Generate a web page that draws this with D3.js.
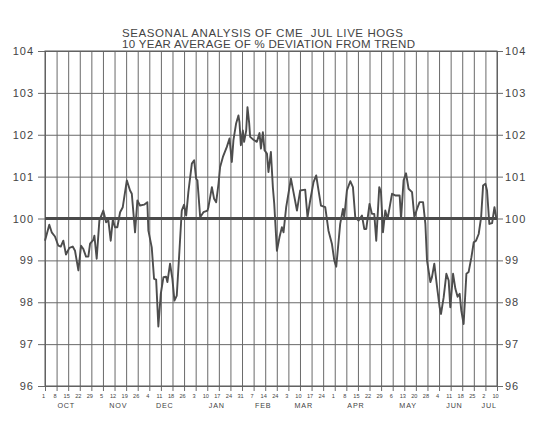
<!DOCTYPE html>
<html>
<head>
<meta charset="utf-8">
<script src="https://cdn.jsdelivr.net/npm/d3@7"></script>
<style>
  body { margin: 0; background: #fff; }
  text { font-family: "Liberation Sans", Arial, sans-serif; fill: #444; }
</style>
</head>
<body>
<svg width="540" height="439"></svg>
<script>
// ---- data ----
const titleLines = [
  'SEASONAL ANALYSIS OF CME  JUL LIVE HOGS',
  '10 YEAR AVERAGE OF % DEVIATION FROM TREND'
];
const dayLabels = [
  '1', '8', '15', '22', '29',
  '5', '12', '19', '26',
  '4', '11', '18', '26',
  '3', '10', '17', '24', '31',
  '7', '14', '24',
  '3', '10', '17', '24',
  '1', '8', '15', '22', '29',
  '6', '13', '20', '28',
  '4', '11', '18', '25',
  '2', '10'
];
const monthNames = ['OCT', 'NOV', 'DEC', 'JAN', 'FEB', 'MAR', 'APR', 'MAY', 'JUN', 'JUL'];
const monthTickCounts = [5, 4, 4, 5, 3, 4, 5, 4, 4, 2];
const yTicks = [96, 97, 98, 99, 100, 101, 102, 103, 104];

// position in weeks from Oct 1, and 10-yr average % of trend
const weekPos = [
  0.00, 0.37, 0.58, 0.86, 1.15, 1.36, 1.58, 1.81, 2.10, 2.39,
  2.59, 2.88, 3.11, 3.31, 3.54, 3.74, 3.89, 4.17, 4.26, 4.46,
  4.69, 5.03, 5.27, 5.47, 5.67, 5.85, 6.04, 6.24, 6.48, 6.71,
  7.06, 7.34, 7.49, 7.77, 7.97, 8.20, 8.55, 8.83, 8.92, 9.21,
  9.41, 9.59, 9.78, 9.99, 10.22, 10.45, 10.56, 10.79, 10.99, 11.17,
  11.37, 11.60, 11.80, 12.00, 12.18, 12.37, 12.67, 12.87, 13.04, 13.15,
  13.39, 13.67, 14.02, 14.10, 14.40, 14.59, 14.77, 14.97, 15.11, 15.35,
  15.69, 15.92, 16.12, 16.26, 16.49, 16.69, 16.78, 16.90, 17.07, 17.18,
  17.36, 17.47, 17.62, 17.70, 17.99, 18.28, 18.51, 18.63, 18.80, 18.94,
  19.15, 19.28, 19.49, 19.66, 19.78, 20.01, 20.23, 20.44, 20.58, 20.81,
  21.22, 21.44, 21.74, 22.02, 22.45, 22.65, 22.88, 23.17, 23.40, 23.60,
  23.81, 24.18, 24.46, 24.76, 24.96, 25.13, 25.47, 25.71, 25.82, 26.05,
  26.34, 26.57, 26.77, 27.06, 27.35, 27.55, 27.72, 28.00, 28.21, 28.41,
  28.58, 28.84, 28.99, 29.16, 29.36, 29.56, 29.94, 30.22, 30.60, 30.72,
  30.94, 31.15, 31.37, 31.67, 31.87, 32.10, 32.32, 32.62, 32.82, 32.96,
  33.25, 33.39, 33.59, 33.83, 34.05, 34.17, 34.40, 34.63, 34.83, 34.97,
  35.21, 35.41, 35.60, 35.78, 35.92, 36.12, 36.36, 36.55, 36.79, 36.99,
  37.19, 37.42, 37.63, 37.80, 38.00, 38.14, 38.34, 38.58, 38.78, 38.95
];
const deviation = [
  99.47, 99.85, 99.67, 99.57, 99.35, 99.33, 99.47, 99.14, 99.30, 99.33,
  99.23, 98.76, 99.35, 99.27, 99.09, 99.09, 99.40, 99.49, 99.59, 99.04,
  99.95, 100.19, 99.91, 99.95, 99.47, 99.97, 99.79, 99.79, 100.15, 100.27,
  100.91, 100.67, 100.59, 99.67, 100.43, 100.31, 100.33, 100.39, 99.71, 99.31,
  98.56, 98.54, 97.42, 98.20, 98.60, 98.61, 98.48, 98.92, 98.56, 98.04,
  98.16, 99.23, 100.19, 100.33, 100.07, 100.63, 101.31, 101.39, 100.95, 100.91,
  100.03, 100.15, 100.19, 100.27, 100.75, 100.47, 100.39, 100.83, 101.23, 101.47,
  101.71, 101.91, 101.35, 101.87, 102.27, 102.46, 102.30, 101.75, 102.10, 101.83,
  102.10, 102.66, 102.27, 101.95, 101.88, 101.83, 102.04, 101.67, 102.06, 101.63,
  101.55, 101.11, 101.59, 100.75, 100.35, 99.23, 99.55, 99.79, 99.67, 100.27,
  100.95, 100.63, 100.19, 100.67, 100.69, 100.03, 100.43, 100.87, 101.03, 100.67,
  100.31, 100.27, 99.71, 99.39, 99.00, 98.85, 99.87, 100.23, 100.03, 100.67,
  100.89, 100.75, 100.03, 99.95, 100.07, 99.75, 99.75, 100.35, 100.11, 100.11,
  99.47, 100.75, 100.63, 99.67, 100.19, 99.99, 100.59, 100.55, 100.55, 99.99,
  100.91, 101.08, 100.71, 100.63, 100.03, 100.23, 100.39, 100.39, 99.87, 99.00,
  98.48, 98.60, 98.92, 98.36, 97.88, 97.72, 98.12, 98.68, 98.52, 97.88,
  98.68, 98.32, 98.13, 98.20, 97.80, 97.48, 98.68, 98.72, 99.07, 99.43,
  99.47, 99.63, 100.03, 100.79, 100.83, 100.67, 99.87, 99.89, 100.27, 99.99
];

// ---- layout ----
const svg = d3.select('svg');
const margins = { top: 51, right: 43, bottom: 53, left: 45 };
const width = +svg.attr('width');
const height = +svg.attr('height');
const chartW = width - margins.left - margins.right;
const chartH = height - margins.top - margins.bottom;

const xScale = d3.scaleLinear()
  .domain([0, dayLabels.length - 1])
  .range([0, chartW]);
const yScale = d3.scaleLinear()
  .domain([96, 104])
  .range([chartH, 0]);

const chart = svg.append('g')
  .attr('transform', `translate(${margins.left}, ${margins.top})`);

// title
svg.append('g')
  .selectAll('text')
  .data(titleLines)
  .join('text')
    .attr('x', 122)
    .attr('y', (d, i) => 37 + i * 11)
    .attr('font-size', 11.5)
    .attr('textLength', (d, i) => i === 0 ? 281 : 293)
    .attr('lengthAdjust', 'spacing')
    .style('white-space', 'pre')
    .attr('fill', '#3a3a3a')
    .text(d => d);

// vertical weekly grid + ticks
const xAxis = d3.axisBottom(xScale)
  .tickValues(d3.range(dayLabels.length))
  .tickSize(-chartH - 5)
  .tickFormat(i => dayLabels[i]);
const xAxisG = chart.append('g')
  .attr('transform', `translate(0, ${chartH + 5})`)
  .call(xAxis);
xAxisG.select('path.domain').remove();
xAxisG.selectAll('line').attr('stroke', '#6a6a6a').attr('stroke-width', 1);
xAxisG.selectAll('text')
  .attr('y', 7)
  .attr('dy', 0)
  .attr('dx', -2)
  .attr('font-size', 5.6)
  .attr('fill', '#444')
  .attr('font-family', '"Liberation Sans", Arial, sans-serif');

// month names centred under their weeks
let start = 0;
const monthCentres = monthTickCounts.map(n => {
  const c = (start + start + n - 1) / 2;
  start += n;
  return c;
});
chart.append('g')
  .selectAll('text')
  .data(monthNames)
  .join('text')
    .attr('x', (d, i) => xScale(monthCentres[i]) - 2)
    .attr('y', chartH + 22)
    .attr('text-anchor', 'middle')
    .attr('font-size', 7.2)
    .attr('letter-spacing', 0.8)
    .text(d => d);

// horizontal grid with labels both sides
const yAxisL = d3.axisLeft(yScale)
  .tickValues(yTicks)
  .tickSize(-chartW - 7)
  .tickPadding(4)
  .tickFormat(d3.format('d'));
const yLeft = chart.append('g')
  .attr('transform', 'translate(-7, 0)')
  .call(yAxisL);
yLeft.select('path.domain').remove();
yLeft.selectAll('line').attr('stroke', '#6a6a6a').attr('stroke-width', 1);

const yAxisR = d3.axisRight(yScale)
  .tickValues(yTicks)
  .tickSize(6)
  .tickPadding(2)
  .tickFormat(d3.format('d'));
const yRight = chart.append('g')
  .attr('transform', `translate(${chartW}, 0)`)
  .call(yAxisR);
yRight.select('path.domain').remove();
yRight.selectAll('line').attr('stroke', '#6a6a6a').attr('stroke-width', 1);

[yLeft, yRight].forEach(g => g.selectAll('text')
  .attr('font-size', 11)
  .attr('letter-spacing', 1)
  .attr('fill', '#555')
  .attr('font-family', '"Liberation Sans", Arial, sans-serif'));

// chart frame
chart.append('rect')
  .attr('width', chartW)
  .attr('height', chartH)
  .attr('fill', 'none')
  .attr('stroke', '#5a5a5a')
  .attr('stroke-width', 1);

// trend line at 100
chart.append('line')
  .attr('x1', 0)
  .attr('x2', chartW)
  .attr('y1', yScale(100))
  .attr('y2', yScale(100))
  .attr('stroke', '#4a4a4a')
  .attr('stroke-width', 3);

// seasonal line
const line = d3.line()
  .x((d, i) => xScale(weekPos[i]))
  .y(d => yScale(d));
chart.append('path')
  .attr('d', line(deviation))
  .attr('fill', 'none')
  .attr('stroke', '#4d4d4d')
  .attr('stroke-width', 1.9)
  .attr('stroke-linejoin', 'round');
</script>
</body>
</html>
